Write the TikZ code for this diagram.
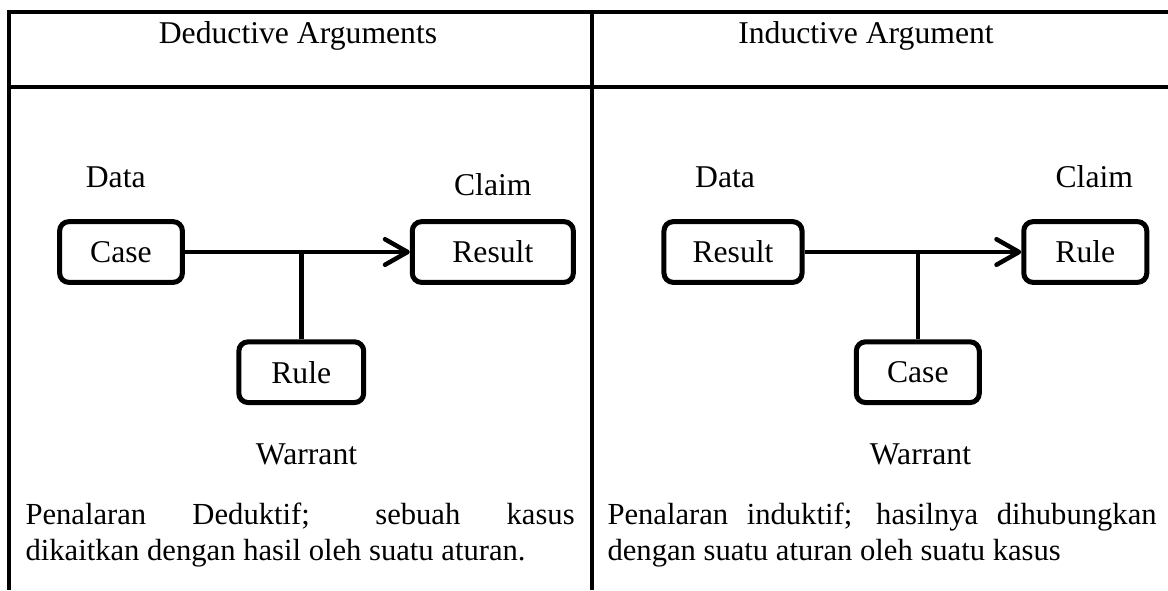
\documentclass[tikz,border=0pt]{standalone}
\usepackage{fontspec}
\setmainfont{Liberation Serif}
\usetikzlibrary{arrows.meta}
\tikzset{
    box/.style={draw, line width=1.9pt, rounded corners=3.5pt, inner sep=0pt,
        minimum height=23pt},
    link/.style={line width=1.7pt},
    grid/.style={line width=1.2pt},
    para/.style={anchor=north west, inner sep=0pt, align=justify,
        font=\fontsize{11.6}{13.8}\selectfont},
}

\begin{document}
\begin{tikzpicture}[x=0.3788pt, y=-0.3788pt, font=\fontsize{12}{14}\selectfont,
        >={Straight Barb[length=3mm, width=3.4mm, round]}]
        \useasboundingbox (0,0) rectangle (1168,590);
        \draw[grid] (1168,12) -- (9,12) -- (9,590);
        \draw[grid] (9,87) -- (1168,87);
        \draw[grid] (592,12) -- (592,590);
        \node[anchor=base] (headD) at (298,43) {Deductive Arguments};
        \node[anchor=base] (headI) at (866,43) {Inductive Argument};

        \node[box, minimum width=46.5pt] (caseL) at (121,252) {Case};
        \node[box, minimum width=61pt, right of=caseL, xshift=3.95cm]
            (resultL) {Result};
        \node[box, minimum width=47.3pt, below of=caseL, xshift=2.4cm,
            yshift=-0.6cm] (ruleL) {Rule};
        \node[above of=caseL, xshift=-2pt] (dataL) {Data};
        \node[above of=resultL, yshift=-3pt] (claimL) {Claim};
        \node[below of=ruleL, xshift=2pt, yshift=-0.1cm] (warrantL) {Warrant};
        \draw[link,->] (caseL) -- (resultL);
        \draw[link] (ruleL) -- (ruleL |- caseL);

        \node[box, minimum width=52.3pt] (resultR) at (733,252) {Result};
        \node[box, minimum width=46.6pt, right of=resultR, xshift=3.69cm]
            (ruleR) {Rule};
        \node[box, minimum width=46.6pt, below of=resultR, xshift=2.46cm,
            yshift=-0.6cm] (caseR) {Case};
        \node[above of=resultR, xshift=-3pt] (dataR) {Data};
        \node[above of=ruleR, xshift=3.4pt] (claimR) {Claim};
        \node[below of=caseR, xshift=1pt, yshift=-0.1cm] (warrantR) {Warrant};
        \draw[link,->] (resultR) -- (ruleR);
        \draw[link] (caseR) -- (caseR |- resultR);

        \node[para, text width=208pt] (textD) at (25,502)
            {Penalaran Deduktif; sebuah kasus\linebreak dikaitkan dengan hasil
            oleh suatu aturan.};
        \node[para, text width=208pt] (textI) at (607,502)
            {Penalaran induktif; hasilnya dihubungkan\linebreak dengan suatu
            aturan oleh suatu kasus};
\end{tikzpicture}
\end{document}
